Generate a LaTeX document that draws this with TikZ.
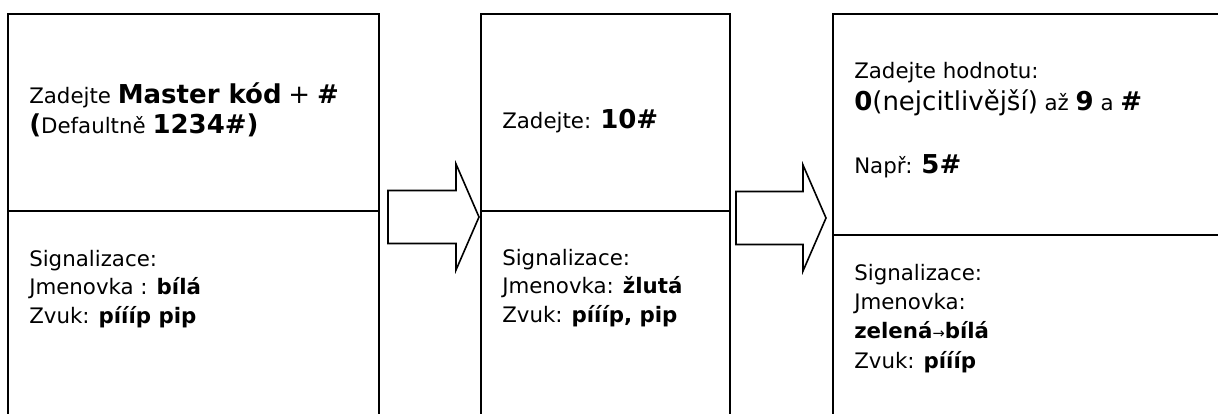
\documentclass[tikz,border=0pt]{standalone}
\usepackage{fontspec}
\setmainfont{DejaVu Sans}
\usetikzlibrary{calc}

\begin{document}
\begin{tikzpicture}[
  x=0.75pt, y=-0.75pt,
  panel/.style={draw, line width=1.4pt, anchor=north west, inner sep=0pt, outer sep=0pt},
  % base anchor of a multi-line node = baseline of its last line
  txt/.style={anchor=base west, align=left, inner sep=0pt, font=\fontsize{16}{#1}\selectfont},
  txt/.default=21.2,
  blockarrow/.style={draw, line width=1.2pt, line join=miter}
]

% --- parameters ---
\def\px{0.75pt}
\def\bigtxt#1{{\fontsize{19.5}{22}\selectfont #1}}
\def\bigb#1{{\fontsize{19.5}{22}\selectfont\bfseries #1}}

\useasboundingbox (0,0) rectangle (1218,414);
\clip (0,0) rectangle (1218,414);

% --- panels (cut off at the page edge) ---
\node[panel, minimum width=371*\px, minimum height=197*\px] (top1) at (8,14) {};
\node[panel, minimum width=371*\px, minimum height=220*\px] (bot1) at (top1.south west) {};
\node[panel, minimum width=249*\px, minimum height=197*\px] (top2) at (481,14) {};
\node[panel, minimum width=249*\px, minimum height=220*\px] (bot2) at (top2.south west) {};
\node[panel, minimum width=400*\px, minimum height=221*\px] (top3) at (833,14) {};
\node[panel, minimum width=400*\px, minimum height=200*\px] (bot3) at (top3.south west) {};

% --- texts ---
\node[txt=22.5] (enter1) at (29,133)
  {Zadejte \bigb{Master kód} \bigtxt{+} \bigb{\#}\\\bigb{(}Defaultně \bigb{1234\#)}};
\node[txt] (sig1) at (29,323)
  {Signalizace:\\Jmenovka : \textbf{bílá}\\Zvuk: \textbf{píííp pip}};

\node[txt] (enter2) at (502,128) {Zadejte: \bigb{10\#}};
\node[txt] (sig2) at (502,322)
  {Signalizace:\\Jmenovka: \textbf{žlutá}\\Zvuk: \textbf{píííp, pip}};

\node[txt=24] (enter3) at (854,110)
  {Zadejte hodnotu:\\\bigb{0}\bigtxt{(nejcitlivější)} až \bigb{9} a \bigb{\#}};
\node[txt] (eg3) at (854,173) {Např: \bigb{5\#}};
\node[txt=22] (sig3) at (854,368)
  {Signalizace:\\Jmenovka:\\\textbf{zelená}{\fontsize{11}{11}\selectfont→}\textbf{bílá}\\Zvuk: \textbf{píííp}};

% --- block arrows between panels ---
\coordinate (a1t) at ($(top2.south west)+(-2,6)$);
\coordinate (a1s) at ($(top1.east |- a1t)+(9,0)$);
\coordinate (a2t) at ($(top3.south west)+(-7,-17)$);
\coordinate (a2s) at ($(top2.east |- a2t)+(6,0)$);

\foreach \s/\t in {a1s/a1t, a2s/a2t}
  \draw[blockarrow] ($(\s)+(0,-26.5)$) -- ($(\t)+(-23,-26.5)$) -- ($(\t)+(-23,-53)$)
    -- (\t) -- ($(\t)+(-23,53)$) -- ($(\t)+(-23,26.5)$) -- ($(\s)+(0,26.5)$) -- cycle;

\end{tikzpicture}
\end{document}
